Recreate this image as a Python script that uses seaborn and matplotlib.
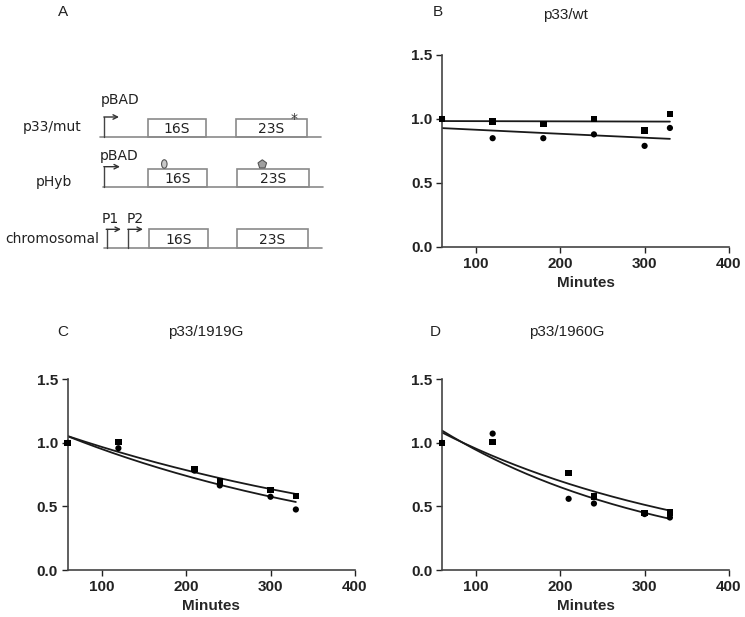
import numpy as np
import pandas as pd
import matplotlib
matplotlib.use("Agg")
import matplotlib.pyplot as plt
import seaborn as sns
from matplotlib.patches import Rectangle, Ellipse, RegularPolygon

sns.set_theme(style="ticks")
plt.rcParams['font.family'] = ['Liberation Sans', 'DejaVu Sans']

# ---------------- data ----------------
minutes = [60, 120, 180, 240, 300, 330]
wt_square = [1.00, 0.98, 0.96, 1.00, 0.91, 1.04]
wt_circle = [1.00, 0.85, 0.85, 0.88, 0.79, 0.93]

minutes_mut = [60, 120, 210, 240, 300, 330]
g1919_square = [1.00, 1.005, 0.793, 0.696, 0.631, 0.581]
g1919_circle = [1.00, 0.958, 0.782, 0.665, 0.576, 0.476]
g1960_square = [1.00, 1.005, 0.762, 0.578, 0.448, 0.452]
g1960_circle = [1.00, 1.073, 0.560, 0.523, 0.440, 0.413]

panel_titles = ["p33/wt", "p33/1919G", "p33/1960G"]
panel_letters = ["B", "C", "D"]
x_ticks = [100, 200, 300, 400]
y_ticks = [0.0, 0.5, 1.0, 1.5]
y_tick_labels = ["0.0", "0.5", "1.0", "1.5"]
x_label = "Minutes"


def exp_fit(t, y):
    t = np.asarray(t, float)
    y = np.asarray(y, float)
    best = None
    for k in np.linspace(-0.003, 0.01, 13001):
        e = np.exp(-k * t)
        A = np.sum(y * e) / np.sum(e * e)
        sse = np.sum((y - A * e) ** 2)
        if best is None or sse < best[0]:
            best = (sse, A, k)
    return best[1], best[2]


fig = plt.figure(figsize=(7.45, 6.17), dpi=100)

# ---------------- panel A (schematic) ----------------
bg = fig.add_axes([0, 0, 1, 1])
bg.set_xlim(0, 745)
bg.set_ylim(617, 0)
bg.axis("off")
bg.patch.set_alpha(0)

gray = "#8a8a8a"
txt = "#222222"
fa = ['DejaVu Sans']

bg.text(62.7, 11.7, "A", ha="center", va="center", fontsize=11, color=txt)

rows = [
    dict(label="p33/mut", lab_xy=(52, 127), base=137.3, x0=100, x1=321,
         b16=(147.7, 205.7), b23=(235.7, 307.3), top=119.3),
    dict(label="pHyb", lab_xy=(54, 181.7), base=187.3, x0=102.7, x1=323,
         b16=(148.3, 206.7), b23=(237, 309), top=168.8),
    dict(label="chromosomal", lab_xy=(52, 239), base=248.3, x0=104, x1=321.7,
         b16=(149.3, 207.7), b23=(237, 308), top=229.3),
]
for r in rows:
    bg.text(r["lab_xy"][0], r["lab_xy"][1], r["label"], ha="center", va="center",
            fontsize=10, color=txt, family=fa)
    bg.plot([r["x0"], r["x1"]], [r["base"], r["base"]], color=gray, lw=1.2)
    for (a, b), name in ((r["b16"], "16S"), (r["b23"], "23S")):
        bg.add_patch(Rectangle((a, r["top"]), b - a, r["base"] - r["top"],
                               fill=False, edgecolor=gray, lw=1.2))
        bg.text((a + b) / 2, (r["top"] + r["base"]) / 2 + 0.8, name, ha="center",
                va="center", fontsize=10, color=txt, family=fa)


def promoter(x, ybase, ytop, xend):
    bg.plot([x, x], [ybase, ytop], color="#444444", lw=1.0)
    bg.annotate("", xy=(xend, ytop), xytext=(x - 0.5, ytop),
                arrowprops=dict(arrowstyle="->", color="#333333", lw=1.0,
                                shrinkA=0, shrinkB=0, mutation_scale=8))


promoter(104.3, 137.3, 117, 119)
promoter(104.3, 187.3, 166.7, 120)
promoter(106.7, 248.3, 229.3, 121)
promoter(128.3, 248.3, 229.3, 143)

bg.text(101, 100, "pBAD", ha="left", va="center", fontsize=10, color=txt, family=fa)
bg.text(100, 156, "pBAD", ha="left", va="center", fontsize=10, color=txt, family=fa)
bg.text(110, 219, "P1", ha="center", va="center", fontsize=10, color=txt, family=fa)
bg.text(135, 219, "P2", ha="center", va="center", fontsize=10, color=txt, family=fa)
bg.text(294, 118.5, "*", ha="center", va="center", fontsize=10, color="#333333", family=fa)
bg.add_patch(Ellipse((164.3, 164), 5.5, 8.5, facecolor="#c8c8c8", edgecolor="#555555", lw=0.8))
bg.add_patch(RegularPolygon((262.3, 164.3), 5, radius=4.5, orientation=np.pi,
                            facecolor="#a0a0a0", edgecolor="#555555", lw=0.8))

# ---------------- panels B, C, D ----------------
positions = [
    [442 / 745, 1 - 247 / 617, (729 - 442) / 745, (247 - 55) / 617],
    [67.7 / 745, 1 - 570 / 617, (355 - 67.7) / 745, (570 - 379.3) / 617],
    [442 / 745, 1 - 570 / 617, (729 - 442) / 745, (570 - 379.3) / 617],
]
datasets = [
    (minutes, wt_square, wt_circle),
    (minutes_mut, g1919_square, g1919_circle),
    (minutes_mut, g1960_square, g1960_circle),
]
title_x = [565, 205.7, 566.7]
title_y = [15, 332, 332]
letter_x = [437.7, 62.7, 435.7]
letter_y = [12.3, 331.7, 332]

for i, (pos, (t, ysq, yci)) in enumerate(zip(positions, datasets)):
    ax = fig.add_axes(pos)
    df = pd.DataFrame({"t": t + t, "y": ysq + yci,
                       "series": ["sq"] * len(t) + ["ci"] * len(t)})
    # fitted curves
    tt = np.linspace(min(t), max(t), 200)
    fits = []
    for name, yy in (("sq", ysq), ("ci", yci)):
        A, k = exp_fit(t, yy)
        fits.append(pd.DataFrame({"t": tt, "y": A * np.exp(-k * tt), "series": name}))
    fdf = pd.concat(fits)
    sns.lineplot(data=fdf, x="t", y="y", units="series", estimator=None,
                 color="#1a1a1a", lw=1.3, ax=ax, legend=False)
    sns.scatterplot(data=df[df.series == "ci"], x="t", y="y", marker="o", s=20,
                    color="black", edgecolor="none", ax=ax, clip_on=False, zorder=5)
    sns.scatterplot(data=df[df.series == "sq"], x="t", y="y", marker="s", s=22,
                    color="black", edgecolor="none", ax=ax, clip_on=False, zorder=6)

    ax.set_xlim(60, 400)
    ax.set_ylim(0, 1.5)
    ax.set_xticks(x_ticks)
    ax.set_yticks(y_ticks)
    ax.set_yticklabels(y_tick_labels)
    for lab in ax.get_xticklabels() + ax.get_yticklabels():
        lab.set_fontweight("bold")
        lab.set_fontsize(11)
    ax.tick_params(direction="out", length=4, width=1.0, colors="#222222", pad=3)
    ax.spines["top"].set_visible(False)
    ax.spines["right"].set_visible(False)
    for s in ("left", "bottom"):
        ax.spines[s].set_color("#444444")
        ax.spines[s].set_linewidth(1.2)
    ax.set_xlabel(x_label, fontsize=11, fontweight="bold", labelpad=4)
    ax.set_ylabel("")
    ax.patch.set_alpha(0)

    fig.text(title_x[i] / 745, 1 - title_y[i] / 617, panel_titles[i], ha="center",
             va="center", fontsize=11, color=txt)
    fig.text(letter_x[i] / 745, 1 - letter_y[i] / 617, panel_letters[i], ha="center",
             va="center", fontsize=11, color=txt)

fig.savefig("out.png", dpi=100)
